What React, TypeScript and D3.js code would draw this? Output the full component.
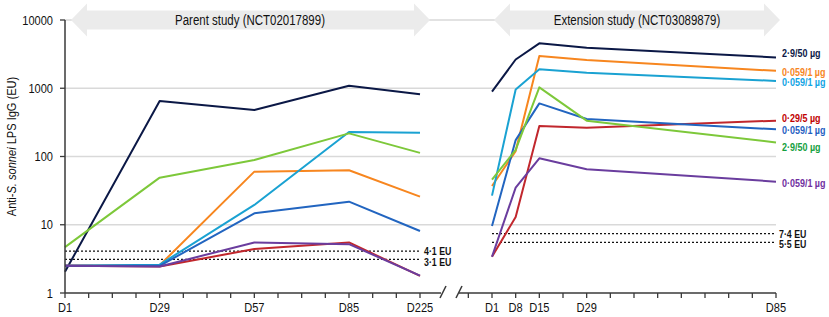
import React from "react";
import * as d3 from "d3";

// ---------- data ----------
const parentVisits = ["D1", "D29", "D57", "D85", "D225"];
const parentSlots = [0, 4, 8, 12, 15]; // weekly tick slots on the parent axis
const extensionDays = [1, 8, 15, 29, 85];
const extensionLabels = ["D1", "D8", "D15", "D29", "D85"];
const yTicks = [1, 10, 100, 1000, 10000];

const seriesNames = ["navy", "orange", "cyan", "red", "blue", "green", "purple"];
const seriesLabels = ["2·9/50 µg", "0·059/1 µg", "0·059/1 µg", "0·29/5 µg", "0·059/1 µg", "2·9/50 µg", "0·059/1 µg"];

const parentNavy = [2.05, 650, 480, 1090, 815];
const parentOrange = [2.5, 2.55, 60, 63, 25.8];
const parentCyan = [2.5, 2.6, 19.5, 228, 222];
const parentRed = [2.5, 2.45, 4.4, 5.5, 1.78];
const parentBlue = [2.5, 2.5, 14.7, 21.8, 8.1];
const parentGreen = [4.7, 49, 89, 218, 113];
const parentPurple = [2.5, 2.45, 5.5, 5.2, 1.8];

const extNavy = [890, 2640, 4550, 3930, 2830];
const extOrange = [37, 120, 2960, 2600, 1800];
const extCyan = [26.7, 960, 1900, 1690, 1280];
const extRed = [3.4, 13, 280, 263, 335];
const extBlue = [9.6, 174, 600, 355, 250];
const extGreen = [46, 125, 1030, 335, 161];
const extPurple = [3.4, 35, 94, 65, 42.8];

const parentThresholds = [4.1, 3.1];
const parentThresholdLabels = ["4·1 EU", "3·1 EU"];
const extThresholds = [7.4, 5.5];
const extThresholdLabels = ["7·4 EU", "5·5 EU"];

// ---------- styles ----------
const lineColors: Record<string, string> = {
  navy: "#0b1846",
  orange: "#f7861f",
  cyan: "#1aa2d2",
  red: "#c1272d",
  blue: "#2265c0",
  green: "#7dc83a",
  purple: "#6a3d9e",
};
const labelColors: Record<string, string> = {
  navy: "#0b1846",
  orange: "#f7861f",
  cyan: "#11a4e4",
  red: "#c00000",
  blue: "#1f5fc2",
  green: "#14a040",
  purple: "#7030a0",
};
const labelY: Record<string, number> = {
  navy: 53,
  orange: 72,
  cyan: 82,
  red: 118,
  blue: 129.5,
  green: 147,
  purple: 183,
};

const FONT = "'Liberation Sans', Arial, sans-serif";
const SX = 0.82; // horizontal condensing to mimic Arial Narrow

type NTProps = {
  x: number;
  y: number;
  anchor?: "start" | "middle" | "end";
  size: number;
  weight?: string;
  fill?: string;
  rotate?: number;
  sx?: number;
  children: React.ReactNode;
};
function NText({ x, y, anchor = "start", size, weight = "normal", fill = "#111", rotate = 0, sx = SX, children }: NTProps) {
  const t = rotate ? `translate(${x},${y}) rotate(${rotate}) scale(${sx},1)` : `translate(${x},${y}) scale(${sx},1)`;
  return (
    <text transform={t} textAnchor={anchor} fontSize={size} fontWeight={weight} fill={fill}>
      {children}
    </text>
  );
}

export default function App() {
  const W = 829;
  const H = 317;
  const x0 = 65;
  const yTop = 20;
  const yBot = 293;

  const y = d3.scaleLog().domain([1, 10000]).range([yBot, yTop]);
  const xp = d3.scaleLinear().domain([0, 15]).range([x0, 420]);
  const slotOf = d3.scaleOrdinal<string, number>().domain(parentVisits).range(parentSlots);
  const xe = d3.scaleLinear().domain([1, 85]).range([492, 776]);

  const parentData: Record<string, number[]> = {
    navy: parentNavy, orange: parentOrange, cyan: parentCyan, red: parentRed,
    blue: parentBlue, green: parentGreen, purple: parentPurple,
  };
  const extData: Record<string, number[]> = {
    navy: extNavy, orange: extOrange, cyan: extCyan, red: extRed,
    blue: extBlue, green: extGreen, purple: extPurple,
  };

  const lineP = d3.line<number>()
    .x((_, i) => xp(slotOf(parentVisits[i])))
    .y((v) => y(v));
  const lineE = d3.line<number>()
    .x((_, i) => xe(extensionDays[i]))
    .y((v) => y(v));

  const parentTickSlots = d3.range(0, 16);
  const extTickDays = d3.range(-6, 86, 7);

  const axisColor = "#3a3a3a";
  const gridColor = "#d9d9d9";
  const arrowFill = "#ebebeb";

  const arrowPath = (xl: number, xr: number, cy: number) => {
    const hw = 16; // head length
    const bh = 9.5; // half body height
    const hh = 16.5; // half head height
    return `M${xl},${cy} L${xl + hw},${cy - hh} L${xl + hw},${cy - bh} L${xr - hw},${cy - bh} L${xr - hw},${cy - hh} L${xr},${cy} L${xr - hw},${cy + hh} L${xr - hw},${cy + bh} L${xl + hw},${cy + bh} L${xl + hw},${cy + hh} Z`;
  };

  return (
    <svg width={W} height={H} style={{ position: "absolute", left: 0, top: 0, background: "#fff" }} fontFamily={FONT}>
      {/* gridlines */}
      {yTicks.slice(1).map((t) => (
        <line key={"g" + t} x1={x0} x2={776} y1={y(t)} y2={y(t)} stroke={gridColor} strokeWidth={1.5} />
      ))}

      {/* study arrows */}
      <path d={arrowPath(71, 430, 20)} fill={arrowFill} />
      <path d={arrowPath(494, 780, 20)} fill={arrowFill} />
      <NText x={250} y={25} anchor="middle" size={14}>Parent study (NCT02017899)</NText>
      <NText x={637} y={25} anchor="middle" size={14}>Extension study (NCT03089879)</NText>

      {/* threshold lines */}
      {parentThresholds.map((t, i) => (
        <g key={"pt" + t}>
          <line x1={x0} x2={420} y1={y(t)} y2={y(t)} stroke="#111" strokeWidth={1.3} strokeDasharray="2,2" />
          <NText x={424} y={y(t) + 4 + i * 2.5} size={11} weight="bold" sx={0.8}>{parentThresholdLabels[i]}</NText>
        </g>
      ))}
      {extThresholds.map((t, i) => (
        <g key={"et" + t}>
          <line x1={492} x2={776} y1={y(t)} y2={y(t)} stroke="#111" strokeWidth={1.3} strokeDasharray="2,2" />
          <NText x={779} y={y(t) + 4 + i * 1.5} size={11} weight="bold" sx={0.8}>{extThresholdLabels[i]}</NText>
        </g>
      ))}

      {/* series lines */}
      {seriesNames.map((n) => (
        <g key={n}>
          <path d={lineP(parentData[n]) || ""} fill="none" stroke={lineColors[n]} strokeWidth={2} strokeLinejoin="round" />
          <path d={lineE(extData[n]) || ""} fill="none" stroke={lineColors[n]} strokeWidth={2} strokeLinejoin="round" />
        </g>
      ))}

      {/* series labels */}
      {seriesNames.map((n, i) => (
        <NText key={"l" + n} x={782} y={labelY[n] + 4} size={11.5} weight="bold" fill={labelColors[n]} sx={0.78}>
          {seriesLabels[i]}
        </NText>
      ))}

      {/* y axis */}
      <line x1={x0} x2={x0} y1={yTop} y2={yBot} stroke={axisColor} strokeWidth={1.5} />
      {yTicks.map((t) => (
        <g key={"yt" + t}>
          <line x1={x0 - 5} x2={x0} y1={y(t)} y2={y(t)} stroke={axisColor} strokeWidth={1.3} />
          <NText x={x0 - 12} y={y(t) + 4.5} anchor="end" size={13.5}>{t}</NText>
        </g>
      ))}
      <NText x={16} y={(yTop + yBot) / 2 - 10} anchor="middle" size={13.5} rotate={-90}>
        Anti-<tspan fontStyle="italic">S. sonnei</tspan> LPS IgG (EU)
      </NText>

      {/* x axis: parent */}
      <line x1={x0} x2={441} y1={yBot} y2={yBot} stroke={axisColor} strokeWidth={1.5} />
      {parentTickSlots.map((s) => (
        <line key={"pk" + s} x1={xp(s)} x2={xp(s)} y1={yBot} y2={yBot + 5} stroke={axisColor} strokeWidth={1.3} />
      ))}
      {parentVisits.map((v) => (
        <NText key={"pl" + v} x={xp(slotOf(v))} y={312} anchor="middle" size={13.5}>{v}</NText>
      ))}

      {/* break marks */}
      <line x1={440} x2={446} y1={298} y2={286} stroke={axisColor} strokeWidth={1.5} />
      <line x1={456} x2={462} y1={298} y2={286} stroke={axisColor} strokeWidth={1.5} />

      {/* x axis: extension */}
      <line x1={459} x2={776} y1={yBot} y2={yBot} stroke={axisColor} strokeWidth={1.5} />
      {extTickDays.map((d) => (
        <line key={"ek" + d} x1={xe(d)} x2={xe(d)} y1={yBot} y2={yBot + 5} stroke={axisColor} strokeWidth={1.3} />
      ))}
      {extensionDays.map((d, i) => (
        <NText key={"el" + d} x={xe(d)} y={312} anchor="middle" size={13.5}>{extensionLabels[i]}</NText>
      ))}
    </svg>
  );
}
